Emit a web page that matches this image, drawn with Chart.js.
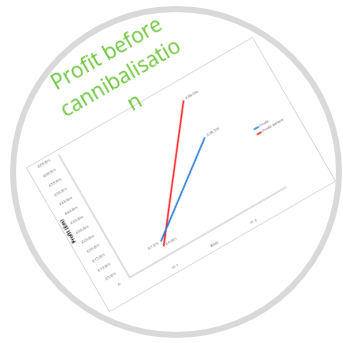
<!DOCTYPE html>
<html>
<head>
<meta charset="utf-8">
<script src="https://cdn.jsdelivr.net/npm/chart.js@4"></script>
<style>
  html, body { margin: 0; padding: 0; background: #fff; }
  body { width: 343px; height: 343px; position: relative; overflow: hidden; font-family: "Open Sans", sans-serif; }
  .ring {
    position: absolute; left: 10px; top: 6px; width: 320px; height: 320px;
    border: 6px solid #d9d9d9; border-radius: 50%;
  }
  .sheet {
    position: absolute; left: 50px; top: 91px; width: 262px; height: 167px;
    border: 1px solid #d9d9d9; background: #fff; box-sizing: border-box;
    transform: rotate(-30deg); transform-origin: center;
  }
  .title {
    position: absolute; left: 20px; top: 35px; width: 200px; height: 84px;
    text-align: center; line-height: 28px; font-size: 21px; color: #6cc33a;
    transform: rotate(-30deg); transform-origin: center;
  }
</style>
</head>
<body>
<div class="ring"></div>
<div class="sheet"><canvas id="profitChart" width="260" height="165"></canvas></div>
<div class="title">Profit before<br>cannibalisatio<br>n</div>
<script>
// categories on the x axis (outer slots stay empty)
const scenarios = ['', 'Yr 1', 'Base', 'Yr 2', ''];
// profit, £m
const profitValues = [null, 7.2, null, 38.5, null];
const profitBeforeValues = [null, 4.6, null, 58.0, null];
const profitLabels = [null, '£7.2m', null, '£38.5m', null];
const profitBeforeLabels = [null, '£4.6m', null, '£58.0m', null];
// y axis tick labels, from 0 up in steps of 5
const yTickLabels = ['£-', '£5.0m', '£10.0m', '£15.0m', '£20.0m', '£25.0m', '£30.0m',
  '£35.0m', '£40.0m', '£45.0m', '£50.0m', '£55.0m', '£60.0m', '£65.0m'];

// small grey labels next to the points
const pointLabels = {
  id: 'pointLabels',
  afterDatasetsDraw(chart) {
    const ctx = chart.ctx;
    const texts = [profitLabels, profitBeforeLabels];
    ctx.save();
    ctx.font = '4px "Open Sans"';
    ctx.fillStyle = '#595959';
    ctx.textBaseline = 'middle';
    chart.data.datasets.forEach((ds, i) => {
      chart.getDatasetMeta(i).data.forEach((pt, j) => {
        const txt = texts[i][j];
        if (!txt || pt.skip) return;
        if (i === 0 && j === 1) {
          ctx.textAlign = 'right';
          ctx.fillText(txt, pt.x - 3, pt.y);
        } else {
          ctx.textAlign = 'left';
          ctx.fillText(txt, pt.x + 3, pt.y - 1);
        }
      });
    });
    ctx.restore();
  }
};

const ctx = document.getElementById('profitChart').getContext('2d');
const profitChart = new Chart(ctx, {
  type: 'line',
  data: {
    labels: scenarios,
    datasets: [
      {
        label: 'Profit',
        data: profitValues,
        borderColor: '#2175d0',
        backgroundColor: '#2175d0',
        borderWidth: 1.6,
        pointRadius: 0,
        spanGaps: true
      },
      {
        label: 'Profit before',
        data: profitBeforeValues,
        borderColor: '#ff1a1a',
        backgroundColor: '#ff1a1a',
        borderWidth: 1.6,
        pointRadius: 0,
        spanGaps: true
      }
    ]
  },
  options: {
    responsive: false,
    animation: false,
    devicePixelRatio: 2,
    layout: { padding: { left: 0, top: 1, right: 4, bottom: 0 } },
    plugins: {
      tooltip: { enabled: false },
      legend: {
        position: 'right',
        labels: {
          font: { size: 4, family: 'Open Sans' },
          color: '#595959',
          usePointStyle: true,
          pointStyle: 'line',
          boxWidth: 6,
          padding: 2
        }
      }
    },
    scales: {
      x: {
        offset: false,
        grid: { display: false },
        border: { display: true, color: '#bfbfbf', dash: [1, 1] },
        ticks: {
          font: { size: 4, family: 'Open Sans' },
          color: '#595959',
          maxRotation: 0,
          autoSkip: false,
          padding: 3
        }
      },
      y: {
        min: 0,
        max: 65,
        grid: { display: false },
        border: { display: true, color: '#bfbfbf', dash: [1, 1] },
        ticks: {
          stepSize: 5,
          font: { size: 4, family: 'Open Sans' },
          color: '#595959',
          padding: 2,
          callback: (v, i) => yTickLabels[i]
        },
        title: {
          display: true,
          text: 'Profit (£m)',
          color: '#000',
          font: { size: 5, weight: 'bold', family: 'Open Sans' },
          padding: 1
        }
      }
    }
  },
  plugins: [pointLabels]
});
</script>
</body>
</html>
